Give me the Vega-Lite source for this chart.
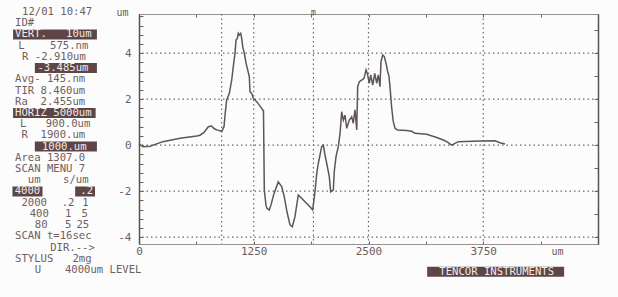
{
  "$schema": "https://vega.github.io/schema/vega-lite/v6.json",
  "autosize": "none",
  "width": 459,
  "height": 230,
  "padding": {"left": 139, "top": 14, "right": 20, "bottom": 53},
  "background": "#fdfcfc",
  "config": {
    "view": {"stroke": "#8a8282", "strokeWidth": 1},
    "font": "DejaVu Sans Mono",
    "axis": {
      "labelFont": "DejaVu Sans Mono",
      "labelFontSize": 11,
      "labelColor": "#6a5c5c",
      "titleFont": "DejaVu Sans Mono",
      "titleFontSize": 10,
      "titleFontWeight": "normal",
      "titleColor": "#6a5c5c",
      "domainColor": "#6a6060",
      "tickColor": "#6a6060",
      "grid": false
    }
  },
  "resolve": {"scale": {"x": "independent", "y": "independent"}},
  "layer": [
    {
      "layer": [
        {
          "data": {"values": [{"v": 900}, {"v": 1250}, {"v": 1900}, {"v": 2500}, {"v": 3750}]},
          "mark": {"type": "rule", "color": "#6e6666", "strokeWidth": 1.2, "strokeDash": [1.5, 3]},
          "encoding": {
            "x": {"field": "v", "type": "quantitative", "scale": {"domain": [0, 5000], "nice": false, "zero": false},
              "axis": {"orient": "top", "values": [0, 625, 1250, 1875, 2500, 3125, 3750, 4375, 5000], "labels": false, "tickSize": -3, "title": null, "domainColor": "#9a9090"}}
          }
        },
        {
          "data": {"values": [{"h": -4}, {"h": -2}, {"h": 0}, {"h": 2}, {"h": 4}]},
          "mark": {"type": "rule", "color": "#6e6666", "strokeWidth": 1.2, "strokeDash": [1.5, 3]},
          "encoding": {
            "y": {"field": "h", "type": "quantitative", "scale": {"domain": [-4.3, 5.7], "nice": false, "zero": false},
              "axis": {"orient": "right", "values": [-4, -3, -2, -1, 0, 1, 2, 3, 4, 5], "labels": false, "tickSize": -4, "title": null, "domainColor": "#5a5050", "domainWidth": 1.5}}
          }
        },
        {
          "data": {"values": [
            {"x": 0, "z": 0.05}, {"x": 44, "z": -0.07}, {"x": 120, "z": -0.05}, {"x": 261, "z": 0.15}, {"x": 447, "z": 0.3},
            {"x": 629, "z": 0.4}, {"x": 664, "z": 0.43}, {"x": 708, "z": 0.55}, {"x": 755, "z": 0.8}, {"x": 792, "z": 0.83},
            {"x": 817, "z": 0.72}, {"x": 846, "z": 0.66}, {"x": 901, "z": 0.6}, {"x": 926, "z": 0.8}, {"x": 937, "z": 1.3},
            {"x": 955, "z": 1.96}, {"x": 984, "z": 2.25}, {"x": 1010, "z": 2.83}, {"x": 1027, "z": 3.41}, {"x": 1046, "z": 4.0},
            {"x": 1057, "z": 4.57}, {"x": 1071, "z": 4.64}, {"x": 1082, "z": 4.86}, {"x": 1093, "z": 4.79}, {"x": 1108, "z": 4.86},
            {"x": 1119, "z": 4.64}, {"x": 1130, "z": 4.28}, {"x": 1147, "z": 4.0}, {"x": 1166, "z": 3.56}, {"x": 1184, "z": 3.27},
            {"x": 1202, "z": 2.97}, {"x": 1209, "z": 2.32}, {"x": 1228, "z": 2.25}, {"x": 1245, "z": 2.03}, {"x": 1264, "z": 1.96},
            {"x": 1282, "z": 1.89}, {"x": 1310, "z": 1.74}, {"x": 1337, "z": 1.6}, {"x": 1347, "z": 1.53}, {"x": 1356, "z": 1.5},
            {"x": 1365, "z": -1.95}, {"x": 1383, "z": -2.6}, {"x": 1394, "z": -2.75}, {"x": 1419, "z": -2.82}, {"x": 1438, "z": -2.6},
            {"x": 1471, "z": -2.1}, {"x": 1517, "z": -1.6}, {"x": 1554, "z": -1.8}, {"x": 1580, "z": -2.2}, {"x": 1612, "z": -2.9},
            {"x": 1645, "z": -3.47}, {"x": 1670, "z": -3.55}, {"x": 1699, "z": -3.11}, {"x": 1735, "z": -2.17}, {"x": 1772, "z": -2.31},
            {"x": 1808, "z": -2.46}, {"x": 1863, "z": -2.68}, {"x": 1892, "z": -2.82}, {"x": 1917, "z": -2.03}, {"x": 1936, "z": -1.23},
            {"x": 1953, "z": -0.8}, {"x": 1990, "z": -0.07}, {"x": 2008, "z": 0.0}, {"x": 2026, "z": -0.43}, {"x": 2045, "z": -0.8},
            {"x": 2073, "z": -1.37}, {"x": 2088, "z": -2.03}, {"x": 2117, "z": -1.95}, {"x": 2127, "z": -1.16}, {"x": 2146, "z": -0.5},
            {"x": 2171, "z": -0.07}, {"x": 2190, "z": 0.51}, {"x": 2208, "z": 1.45}, {"x": 2226, "z": 1.09}, {"x": 2244, "z": 1.3},
            {"x": 2263, "z": 0.73}, {"x": 2291, "z": 1.09}, {"x": 2317, "z": 1.23}, {"x": 2334, "z": 0.95}, {"x": 2353, "z": 1.53},
            {"x": 2372, "z": 0.66}, {"x": 2382, "z": 2.54}, {"x": 2400, "z": 2.76}, {"x": 2426, "z": 2.83}, {"x": 2451, "z": 2.9},
            {"x": 2473, "z": 3.27}, {"x": 2487, "z": 3.12}, {"x": 2509, "z": 2.69}, {"x": 2524, "z": 3.05}, {"x": 2546, "z": 2.61},
            {"x": 2568, "z": 3.12}, {"x": 2589, "z": 2.69}, {"x": 2607, "z": 3.05}, {"x": 2625, "z": 2.54}, {"x": 2636, "z": 3.63},
            {"x": 2655, "z": 3.92}, {"x": 2672, "z": 3.85}, {"x": 2691, "z": 3.56}, {"x": 2709, "z": 3.19}, {"x": 2723, "z": 3.0},
            {"x": 2734, "z": 2.54}, {"x": 2753, "z": 1.6}, {"x": 2770, "z": 1.02}, {"x": 2789, "z": 0.73}, {"x": 2814, "z": 0.66},
            {"x": 2916, "z": 0.63}, {"x": 2971, "z": 0.6}, {"x": 3007, "z": 0.51}, {"x": 3134, "z": 0.47}, {"x": 3243, "z": 0.33},
            {"x": 3315, "z": 0.22}, {"x": 3352, "z": 0.15}, {"x": 3406, "z": 0.0}, {"x": 3478, "z": 0.15}, {"x": 3715, "z": 0.18},
            {"x": 3878, "z": 0.19}, {"x": 3932, "z": 0.1}, {"x": 3987, "z": 0.05}
          ]},
          "mark": {"type": "line", "color": "#5e5656", "strokeWidth": 1.5},
          "encoding": {
            "x": {"field": "x", "type": "quantitative",
              "axis": {"orient": "bottom", "values": [0, 625, 1250, 1875, 2500, 3125, 3750, 4375, 5000],
                "labelExpr": "datum.value % 1250 == 0 && datum.value < 5000 ? '' + datum.value : ''",
                "tickSize": -3, "labelPadding": 10, "labelBaseline": "middle", "labelFlush": false,
                "title": "um", "titleX": 418, "titleY": 7, "titleBaseline": "middle", "titleAlign": "center", "titleFontSize": 10, "domainColor": "#9a9090"}},
            "y": {"field": "z", "type": "quantitative",
              "axis": {"orient": "left", "values": [-4, -3.6, -3.2, -2.8, -2.4, -2, -1.6, -1.2, -0.8, -0.4, 0, 0.4, 0.8, 1.2, 1.6, 2, 2.4, 2.8, 3.2, 3.6, 4, 4.4, 4.8, 5.2, 5.6],
                "labelExpr": "datum.value % 2 == 0 ? '' + datum.value : ''",
                "tickSize": -4, "labelPadding": 12, "labelFlush": false,
                "title": "um", "titleAngle": 0, "titleX": -17, "titleY": -2, "titleAlign": "center", "titleBaseline": "middle", "titleFontSize": 10,
                "domainColor": "#5a5050", "domainWidth": 1.5}}
          }
        },
        {
          "data": {"values": [{"v": 1900, "top": 5.7, "label": "m"}]},
          "mark": {"type": "text", "fontSize": 8, "color": "#5a5050", "baseline": "middle", "dy": -1},
          "encoding": {
            "x": {"field": "v", "type": "quantitative", "axis": null},
            "y": {"field": "top", "type": "quantitative", "axis": null},
            "text": {"field": "label"}
          }
        }
      ]
    },
    {
      "data": {"values": [
        {"row": 1, "col": 1.1, "text": "12/01 10:47", "hl": false},
        {"row": 2, "col": 0, "text": "ID#", "hl": false},
        {"row": 3, "col": 0, "text": "VERT.\u00a0\u00a0\u00a010um", "hl": true, "c0": -0.3, "c1": 12.8},
        {"row": 4, "col": 0.5, "text": "L\u00a0\u00a0\u00a0\u00a0575.nm", "hl": false},
        {"row": 5, "col": 1.1, "text": "R -2.910um", "hl": false},
        {"row": 6, "col": 3.5, "text": "-3.485um", "hl": true, "c0": 3.1, "c1": 12.8},
        {"row": 7, "col": 0, "text": "Avg- 145.nm", "hl": false},
        {"row": 8, "col": 0, "text": "TIR 8.460um", "hl": false},
        {"row": 9, "col": 0, "text": "Ra\u00a0\u00a02.455um", "hl": false},
        {"row": 10, "col": 0, "text": "HORIZ 5000um", "hl": true, "c0": -0.3, "c1": 12.6},
        {"row": 11, "col": 0.8, "text": "L\u00a0\u00a0\u00a0900.0um", "hl": false},
        {"row": 12, "col": 1, "text": "R\u00a0\u00a01900.um", "hl": false},
        {"row": 13, "col": 4.2, "text": "1000.um", "hl": true, "c0": 3.1, "c1": 12.8},
        {"row": 14, "col": 0, "text": "Area 1307.0", "hl": false},
        {"row": 15, "col": 0, "text": "SCAN MENU 7", "hl": false},
        {"row": 16, "col": 2, "text": "um", "hl": false},
        {"row": 16, "col": 7.5, "text": "s/um", "hl": false},
        {"row": 17, "col": -0.05, "text": "4000", "hl": true, "c0": -0.4, "c1": 4.3},
        {"row": 17, "col": 10.2, "text": ".2", "hl": true, "c0": 9.4, "c1": 12.5},
        {"row": 18, "col": 1, "text": "2000", "hl": false},
        {"row": 18, "col": 7.3, "text": ".2", "hl": false},
        {"row": 18, "col": 10.5, "text": "1", "hl": false},
        {"row": 19, "col": 2.3, "text": "400", "hl": false},
        {"row": 19, "col": 7.8, "text": "1", "hl": false},
        {"row": 19, "col": 10.4, "text": "5", "hl": false},
        {"row": 20, "col": 3.1, "text": "80", "hl": false},
        {"row": 20, "col": 7.8, "text": "5", "hl": false},
        {"row": 20, "col": 9.6, "text": "25", "hl": false},
        {"row": 21, "col": 0, "text": "SCAN t=16sec", "hl": false},
        {"row": 22, "col": 5.5, "text": "DIR.-->", "hl": false},
        {"row": 23, "col": 0, "text": "STYLUS\u00a0\u00a0\u00a02mg", "hl": false},
        {"row": 24, "col": 3.1, "text": "U", "hl": false},
        {"row": 24, "col": 7.8, "text": "4000um LEVEL", "hl": false},
        {"row": 24.15, "col": 66.3, "text": "TENCOR INSTRUMENTS", "hl": true, "c0": 64.4, "c1": 85.8}
      ]},
      "layer": [
        {
          "transform": [{"filter": "datum.hl"}],
          "mark": {"type": "rect", "color": "#5e4646", "height": 10},
          "encoding": {
            "x": {"field": "c0", "type": "quantitative", "scale": {"domain": [19.375, 91.094], "nice": false, "zero": false}, "axis": null},
            "x2": {"field": "c1"},
            "y": {"field": "row", "type": "quantitative", "scale": {"domain": [1.18, 21.68], "reverse": true, "nice": false, "zero": false}, "axis": null}
          }
        },
        {
          "mark": {"type": "text", "align": "left", "baseline": "middle", "font": "DejaVu Sans Mono", "fontSize": 10.6},
          "encoding": {
            "x": {"field": "col", "type": "quantitative", "axis": null},
            "y": {"field": "row", "type": "quantitative", "axis": null},
            "text": {"field": "text"},
            "color": {"condition": {"test": "datum.hl", "value": "#f2eaea"}, "value": "#6e5f5f"}
          }
        }
      ]
    }
  ]
}
